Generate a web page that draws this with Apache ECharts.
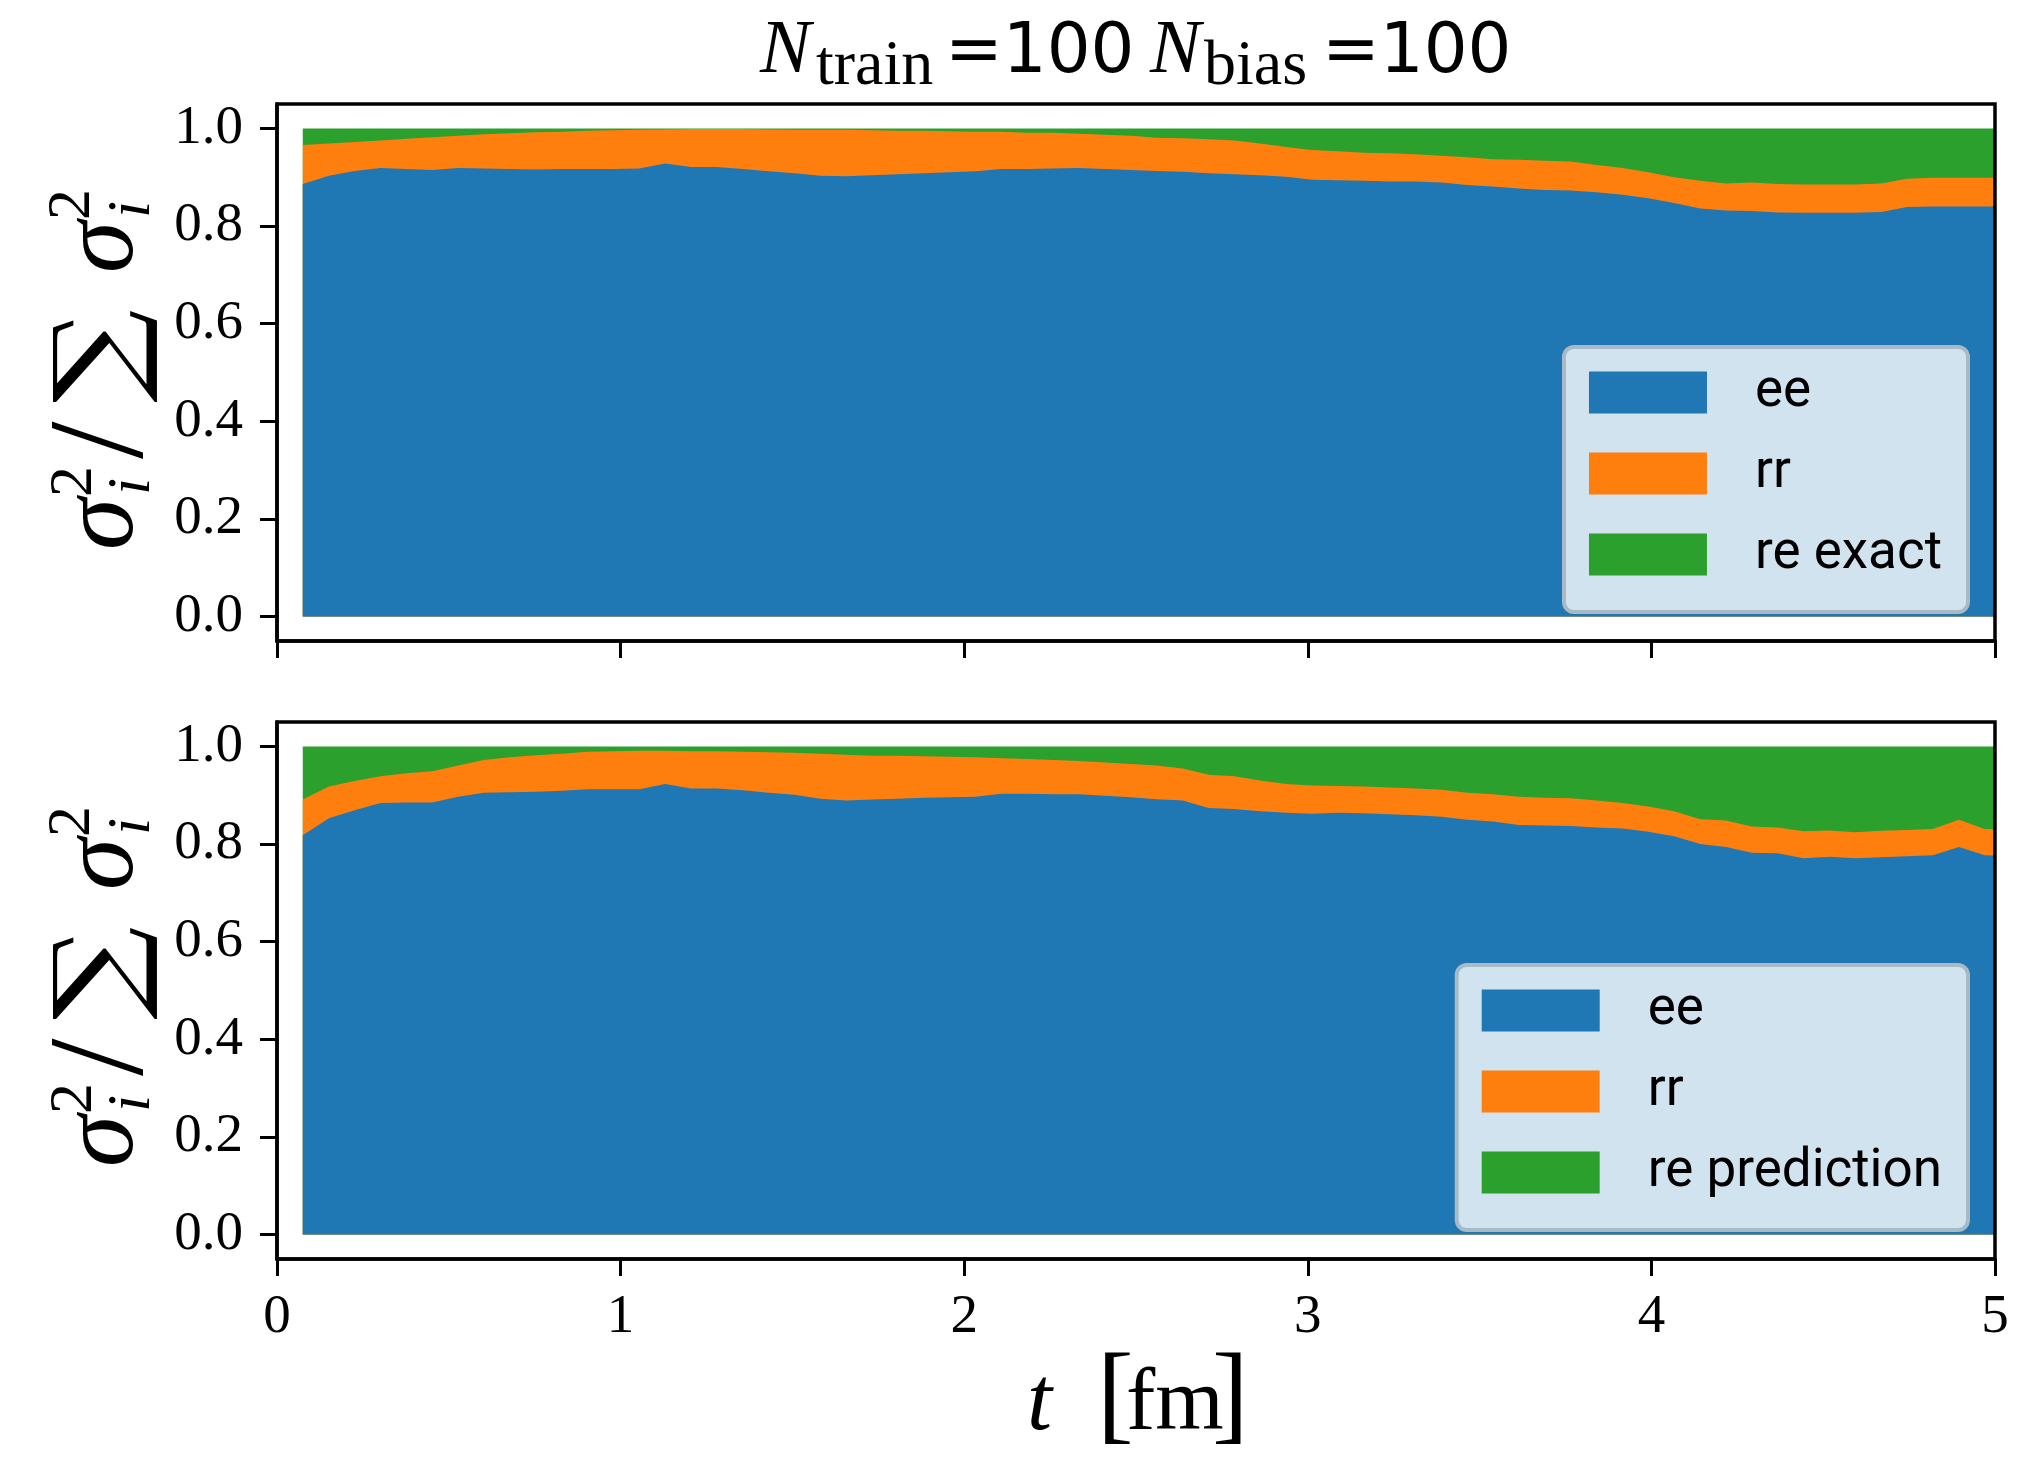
<!DOCTYPE html>
<html><head><meta charset="utf-8">
<script src="https://cdn.jsdelivr.net/npm/echarts@6/dist/echarts.min.js"></script>
<style>html,body{margin:0;padding:0;background:#fff}#c{width:2039px;height:1459px}</style>
</head><body><div id="c"></div>
<script>
// time grid t [fm]
const t = [0.075,0.151,0.226,0.301,0.377,0.452,0.527,0.602,0.678,0.753,
0.828,0.904,0.979,1.054,1.130,1.205,1.280,1.355,1.431,1.506,
1.581,1.657,1.732,1.807,1.883,1.958,2.033,2.108,2.184,2.259,
2.334,2.410,2.485,2.560,2.636,2.711,2.786,2.861,2.937,3.012,
3.087,3.163,3.238,3.313,3.389,3.464,3.539,3.614,3.690,3.765,
3.840,3.916,3.991,4.066,4.142,4.217,4.292,4.367,4.443,4.518,
4.593,4.669,4.744,4.819,4.895,4.970,5.045];

// top panel
const eeTop = [0.886,0.903,0.913,0.919,0.917,0.915,0.919,0.918,0.917,0.916,
0.917,0.917,0.917,0.918,0.928,0.921,0.921,0.917,0.912,0.908,
0.903,0.902,0.904,0.906,0.908,0.910,0.912,0.917,0.917,0.918,
0.919,0.917,0.915,0.913,0.911,0.908,0.906,0.904,0.901,0.895,
0.894,0.893,0.891,0.891,0.889,0.884,0.881,0.877,0.874,0.873,
0.869,0.864,0.857,0.847,0.836,0.832,0.831,0.828,0.827,0.827,
0.827,0.829,0.839,0.840,0.840,0.840,0.840];
const rrTop = [0.080,0.066,0.059,0.056,0.062,0.067,0.066,0.070,0.073,0.076,
0.076,0.078,0.079,0.079,0.070,0.078,0.078,0.082,0.086,0.089,
0.094,0.095,0.092,0.089,0.087,0.084,0.081,0.076,0.074,0.073,
0.070,0.070,0.070,0.068,0.069,0.070,0.069,0.065,0.061,0.061,
0.059,0.057,0.058,0.056,0.055,0.057,0.056,0.059,0.060,0.059,
0.056,0.055,0.053,0.053,0.057,0.055,0.058,0.058,0.058,0.058,
0.058,0.058,0.058,0.059,0.059,0.059,0.059];
const reExact = [0.034,0.031,0.028,0.025,0.021,0.018,0.015,0.012,0.010,0.008,
0.007,0.005,0.004,0.003,0.002,0.001,0.001,0.001,0.002,0.003,
0.003,0.003,0.004,0.005,0.005,0.006,0.007,0.007,0.009,0.009,
0.011,0.013,0.015,0.019,0.020,0.022,0.025,0.031,0.038,0.044,
0.047,0.050,0.051,0.053,0.056,0.059,0.063,0.064,0.066,0.068,
0.075,0.081,0.090,0.100,0.107,0.113,0.111,0.114,0.115,0.115,
0.115,0.113,0.103,0.101,0.101,0.101,0.101];

// bottom panel
const eeBot = [0.818,0.853,0.869,0.884,0.885,0.885,0.897,0.905,0.906,0.907,
0.909,0.912,0.912,0.912,0.923,0.914,0.914,0.910,0.905,0.901,
0.893,0.889,0.891,0.893,0.895,0.896,0.897,0.903,0.903,0.902,
0.902,0.899,0.896,0.892,0.889,0.874,0.872,0.867,0.864,0.862,
0.864,0.863,0.861,0.859,0.856,0.850,0.846,0.839,0.838,0.837,
0.834,0.832,0.825,0.816,0.800,0.794,0.782,0.781,0.771,0.774,
0.771,0.773,0.775,0.777,0.794,0.777,0.776];
const rrBot = [0.073,0.065,0.060,0.055,0.060,0.064,0.064,0.067,0.072,0.075,
0.076,0.077,0.078,0.079,0.068,0.076,0.076,0.079,0.083,0.086,
0.092,0.094,0.090,0.088,0.085,0.083,0.081,0.073,0.071,0.070,
0.068,0.068,0.068,0.069,0.066,0.068,0.067,0.063,0.059,0.058,
0.055,0.055,0.055,0.055,0.055,0.055,0.056,0.058,0.057,0.057,
0.055,0.052,0.052,0.051,0.051,0.054,0.054,0.053,0.055,0.054,
0.053,0.054,0.054,0.054,0.056,0.054,0.053];
const rePred = [0.109,0.082,0.071,0.061,0.055,0.051,0.039,0.028,0.022,0.018,
0.015,0.011,0.010,0.009,0.009,0.010,0.010,0.011,0.012,0.013,
0.015,0.017,0.019,0.019,0.020,0.021,0.022,0.024,0.026,0.028,
0.030,0.033,0.036,0.039,0.045,0.058,0.061,0.070,0.077,0.080,
0.081,0.082,0.084,0.086,0.089,0.095,0.098,0.103,0.105,0.106,
0.111,0.116,0.123,0.133,0.149,0.152,0.164,0.166,0.174,0.172,
0.176,0.173,0.171,0.169,0.150,0.169,0.171];

const xTicks = [0,1,2,3,4,5];
const yTicks = [0,0.2,0.4,0.6,0.8,1.0];
const topNames = ['ee','rr','re exact'];
const botNames = ['ee','rr','re prediction'];
const COLORS = ['#1f77b4','#ff7f0e','#2ca02c'];

const SERIF = "'Liberation Serif','DejaVu Serif',serif";
const DJS = "'DejaVu Serif',serif";
const SANS = "'DejaVu Sans',sans-serif";
const LEG = "Roboto,'DejaVu Sans',sans-serif";

// cumulative (stacked) tops, built from the three component arrays
function cum(arrs){
  return t.map((_, i) => arrs.reduce((s, a) => s + a[i], 0));
}
// each band is drawn as an area from 0 up to its stacked top; lower bands painted above
function area(name, tops, color, idx, z){
  return {type:'line', name, xAxisIndex:idx, yAxisIndex:idx,
    data:t.map((x,i)=>[x, tops[i]]), symbol:'none', showSymbol:false,
    lineStyle:{width:0, opacity:0}, areaStyle:{color, opacity:1, origin:'auto'}, itemStyle:{color},
    silent:true, z, clip:true};
}
function gt(text, x, base, F, style, fam, extra){
  return Object.assign({type:'text', x, y: base - 0.34*F, z:10, style:{text, fontFamily: fam||SERIF, fontSize:F,
    fontStyle: style||'normal', fill:'#000', align:'left', verticalAlign:'middle'}}, extra||{});
}
function ylabel(cy){
  return {type:'group', x:140, y:cy, rotation:Math.PI/2, children:[
    gt('σ', -177, 0, 105, 'italic'),
    gt('2', -124, -44, 62),
    gt('i', -122, 14, 62, 'italic'),
    gt('/', -86, 12, 135),
    // summation sign, slightly stretched along the text direction
    gt('∑', -30, 4, 114, 'normal', DJS, {scaleX:1.15}),
    gt('σ', 100, 0, 105, 'italic'),
    gt('2', 153, -46, 62),
    gt('i', 155, 14, 62, 'italic')
  ]};
}
function legendCfg(names, top){
  return {show:true, orient:'vertical', right:71, top, icon:'rect', itemWidth:118, itemHeight:42, itemGap:28,
    data:names.map((n,i)=>({name:n, itemStyle:{color:COLORS[i], borderWidth:0}})),
    backgroundColor:'#d2e3f0', borderColor:'#a9bac7', borderWidth:4, borderRadius:10,
    padding:[19,26,31,25], selectedMode:false, z:20,
    textStyle:{fontFamily:LEG, fontSize:53, color:'#000', padding:[10,0,0,43]}};
}
function xAx(i){
  return {type:'value', gridIndex:i, min:0, max:5, interval:1, z:5,
    axisLine:{show:true, onZero:false, lineStyle:{color:'#000', width:3.5}},
    axisTick:{show:true, inside:false, length:17, lineStyle:{color:'#000', width:3}},
    axisLabel:{show:i===1, fontFamily:SERIF, fontSize:55, color:'#000', margin:31, lineHeight:55,
      formatter:v=>String(v)},
    splitLine:{show:false}};
}
function yAx(i){
  return {type:'value', gridIndex:i, min:-0.05, max:1.05, z:5,
    axisLine:{show:true, onZero:false, lineStyle:{color:'#000', width:3.5}},
    axisTick:{show:true, inside:false, length:17, lineStyle:{color:'#000', width:3}, customValues:yTicks},
    axisLabel:{customValues:yTicks, fontFamily:SERIF, fontSize:55, color:'#000', margin:34,
      formatter:v=>Number(v).toFixed(1)},
    splitLine:{show:false}};
}

const topE = cum([eeTop]), topR = cum([eeTop, rrTop]), topG = cum([eeTop, rrTop, reExact]);
const botE = cum([eeBot]), botR = cum([eeBot, rrBot]), botG = cum([eeBot, rrBot, rePred]);

const chart = echarts.init(document.getElementById('c'), null, {renderer:'canvas', width:2039, height:1459});
chart.setOption({
  animation:false,
  backgroundColor:'#fff',
  grid:[{left:277, top:104, width:1718, height:537, show:true, borderColor:'#000', borderWidth:3.5, z:5, backgroundColor:'transparent'},
        {left:277, top:722, width:1718, height:537, show:true, borderColor:'#000', borderWidth:3.5, z:5, backgroundColor:'transparent'}],
  xAxis:[xAx(0), xAx(1)],
  yAxis:[yAx(0), yAx(1)],
  legend:[legendCfg(topNames, 347), legendCfg(botNames, 965)],
  graphic:{elements:[
    gt('N', 760, 78, 76, 'italic'),
    gt('train', 816, 89, 64),
    gt('=100', 945, 78, 69, 'normal', SANS),
    gt('N', 1150, 78, 76, 'italic'),
    gt('bias', 1204, 89, 64),
    gt('=100', 1322, 78, 69, 'normal', SANS),
    gt('t', 1027, 1436, 90, 'italic'),
    gt('[', 1097, 1438, 110),
    gt('fm', 1126, 1436, 88),
    gt(']', 1212, 1438, 110),
    ylabel(373),
    ylabel(990)
  ]},
  series:[
    area(topNames[2], topG, COLORS[2], 0, 1),
    area(topNames[1], topR, COLORS[1], 0, 2),
    area(topNames[0], topE, COLORS[0], 0, 3),
    area(botNames[2], botG, COLORS[2], 1, 1),
    area(botNames[1], botR, COLORS[1], 1, 2),
    area(botNames[0], botE, COLORS[0], 1, 3)
  ]
});
</script></body></html>
